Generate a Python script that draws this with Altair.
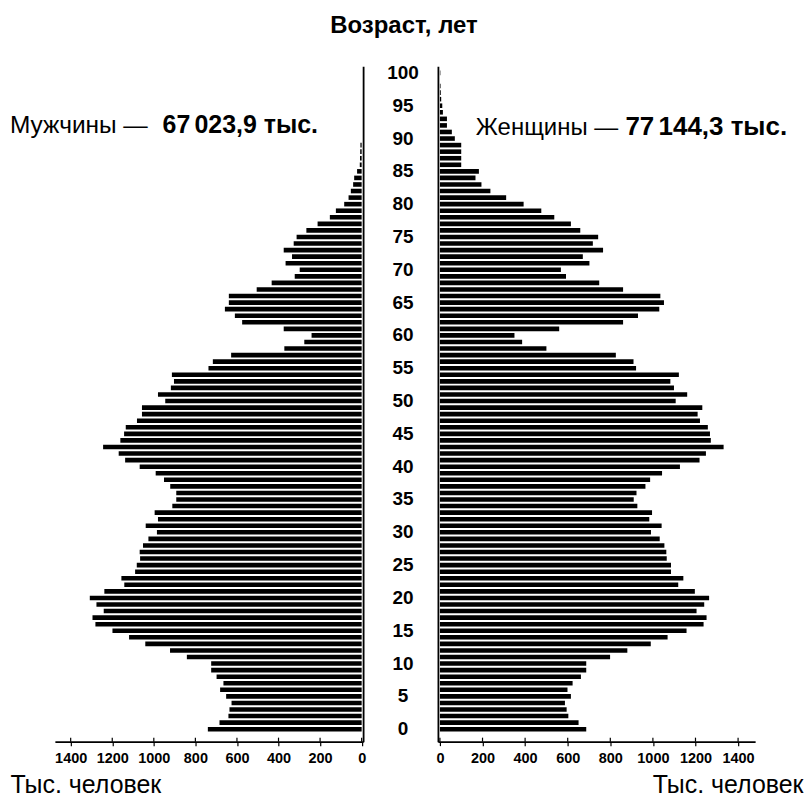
import altair as alt
import pandas as pd

ages = list(range(101))
male = [740, 684, 641, 636, 626, 652, 681, 665, 698, 724,
        724, 841, 922, 1041, 1119, 1199, 1281, 1295, 1241, 1276,
        1308, 1238, 1142, 1156, 1090, 1082, 1066, 1068, 1052, 1026,
        985, 1039, 980, 996, 911, 892, 892, 921, 951, 991,
        1068, 1138, 1169, 1244, 1161, 1143, 1135, 1081, 1057, 1057,
        945, 980, 918, 903, 913, 737, 716, 628, 372, 276,
        241, 375, 575, 610, 658, 639, 639, 505, 433, 322,
        298, 366, 335, 375, 327, 313, 266, 212, 153, 124,
        84, 63, 52, 41, 36, 22, 9, 8, 7, 6,
        0, 0, 0, 0, 0, 0, 0, 0, 0, 0, 0]
female = [687, 651, 603, 595, 587, 615, 599, 623, 662, 687,
          687, 799, 880, 990, 1069, 1158, 1238, 1252, 1205, 1241,
          1264, 1197, 1119, 1143, 1085, 1085, 1065, 1063, 1054, 1032,
          991, 1041, 983, 996, 927, 910, 923, 965, 987, 1043,
          1127, 1219, 1249, 1332, 1272, 1268, 1258, 1221, 1210, 1232,
          1107, 1161, 1099, 1082, 1122, 921, 909, 826, 500, 386,
          350, 560, 860, 930, 1030, 1052, 1035, 860, 748, 592,
          568, 702, 671, 766, 718, 743, 659, 615, 537, 476,
          393, 311, 237, 195, 167, 183, 100, 100, 100, 100,
          70, 56, 33, 33, 14, 11, 6, 4, 3, 0, 2]
tick_values = [0, 200, 400, 600, 800, 1000, 1200, 1400]
age_ticks = list(range(0, 101, 5))

title_text = "Возраст, лет"
male_label = "Мужчины —"
male_total = "67\u2006023,9 тыс."
female_label = "Женщины —"
female_total = "77\u2006144,3 тыс."
unit_label = "Тыс. человек"

H = 677
WL = 309
WM = 75
WR = 318
FONT = "Liberation Sans, Arial, sans-serif"

df = pd.DataFrame({"age": ages, "male": male, "female": female})
tdf = pd.DataFrame({"v": tick_values})

yscale = alt.Scale(domain=[-1.9, 101], nice=False, zero=False)


def panel(field, xscale, y_orient, title_x, title_align, label_rows, width):
    xaxis = alt.Axis(values=tick_values, format="d", title=unit_label,
                     titleX=title_x, titleY=51, titleAlign=title_align,
                     titleBaseline="alphabetic", titleFont=FONT, titleFontSize=25,
                     titleFontWeight="normal", titleColor="black",
                     labelFont=FONT, labelFontSize=14.5, labelFontWeight="bold",
                     labelColor="black", labelPadding=6, labelOverlap=False,
                     labelFlush=False,
                     tickColor="black", tickSize=4, tickWidth=1.2,
                     domainColor="black", domainWidth=1.6, grid=False)
    yaxis = alt.Axis(orient=y_orient, labels=False, ticks=False, title=None,
                     grid=False, domainColor="black", domainWidth=1.8)
    rect = alt.Chart(df).transform_calculate(
        y0="datum.age - 0.35", y1="datum.age + 0.35"
    ).mark_rect(color="black").encode(
        x=alt.X(f"{field}:Q", scale=xscale, axis=xaxis),
        x2=alt.datum(0),
        y=alt.Y("y0:Q", scale=yscale, axis=yaxis),
        y2="y1:Q",
    )
    ticks_in = alt.Chart(tdf).mark_rule(color="black", strokeWidth=1.2).encode(
        x=alt.X("v:Q", scale=xscale, axis=xaxis),
        y=alt.value(H - 4),
        y2=alt.value(H),
    )
    layers = [rect, ticks_in]
    for txt, xpos, ypos, weight, size in label_rows:
        layers.append(
            alt.Chart(pd.DataFrame({"t": [txt]})).mark_text(
                align="left", baseline="alphabetic", font=FONT, fontSize=size,
                fontWeight=weight, color="black"
            ).encode(x=alt.value(xpos), y=alt.value(ypos), text="t:N")
        )
    return alt.layer(*layers).properties(width=width, height=H)


left = panel("male", alt.Scale(domain=[-7, 1476], reverse=True, nice=False, zero=False),
             "right", -45, "left",
             [(male_label, -45, 67, "normal", 24.5), (male_total, 108, 67, "bold", 25)],
             WL)
right = panel("female", alt.Scale(domain=[-9.4, 1480], nice=False, zero=False),
              "left", WR + 48, "right",
              [(female_label, 38, 69, "normal", 24), (female_total, 188, 69, "bold", 26)],
              WR)

mid_labels = alt.Chart(pd.DataFrame({"age": age_ticks})).mark_text(
    font=FONT, fontSize=19, fontWeight="bold", baseline="middle", align="center",
    color="black"
).encode(
    x=alt.value(40),
    y=alt.Y("age:Q", scale=yscale, axis=None),
    text="age:Q",
)
mid_title = alt.Chart(pd.DataFrame({"t": [title_text]})).mark_text(
    font=FONT, fontSize=24, fontWeight="bold", baseline="middle", align="center",
    color="black"
).encode(x=alt.value(41), y=alt.value(-40), text="t:N")
mid = alt.layer(mid_labels, mid_title).properties(width=WM, height=H)

chart = alt.hconcat(left, mid, right).properties(
    spacing=0, bounds="flush",
    padding={"left": 2, "top": 5.5, "right": 1, "bottom": 0},
).resolve_scale(x="independent", y="independent").configure_view(stroke=None)

chart.save("out.html", embed_options={"renderer": "svg", "actions": False})
